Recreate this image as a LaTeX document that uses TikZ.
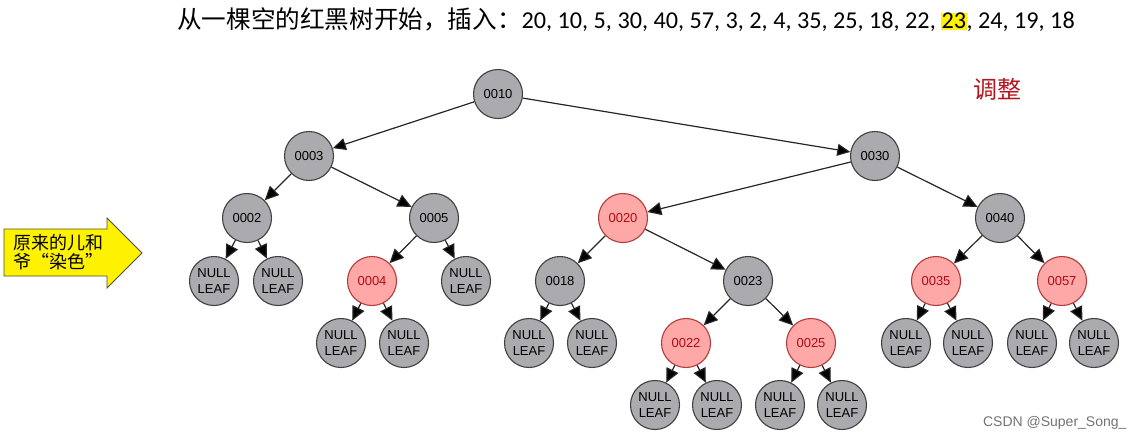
\documentclass[tikz,border=0pt]{standalone}
\usepackage{fontspec}
\setmainfont{Liberation Sans}
\newfontfamily\cjk{Noto Sans CJK SC}
\newfontfamily\numf{Carlito}
\usetikzlibrary{arrows.meta}
\definecolor{nodegrey}{RGB}{171,170,175}
\definecolor{nodered}{RGB}{255,168,168}
\definecolor{redline}{RGB}{178,60,60}
\definecolor{redtext}{RGB}{175,10,20}
\definecolor{tiaozheng}{RGB}{180,20,30}
\tikzset{
  blk/.style={circle,draw=black!75,line width=1.1pt,fill=nodegrey,minimum size=49pt,inner sep=0pt,
    font=\fontsize{13}{15.5}\selectfont,align=center},
  rd/.style={blk,draw=redline,fill=nodered,text=redtext},
  edge/.style={draw=black!85,line width=1.2pt,-{Triangle[length=14pt,width=13pt,fill=black]}},
  topedge/.style={draw=black!85,line width=1.2pt,-{Triangle[length=13pt,width=12pt,fill=black]}}
}
\begin{document}
\begin{tikzpicture}[x=1pt,y=-1pt]
\useasboundingbox (0,0) rectangle (1142,445);
% title
\node[anchor=west,inner sep=0pt] (title) at (177,20)
  {{\cjk\fontsize{24.6}{27}\selectfont 从一棵空的红黑树开始，插入：}{\numf\fontsize{24.2}{27}\selectfont 20, 10, 5, 30, 40, 57, 3, 2, 4, 35, 25, 18, 22, \setlength{\fboxsep}{0.5pt}\colorbox{yellow}{23}, 24, 19, 18}};
\node[text=tiaozheng,font=\cjk\fontsize{24}{26}\selectfont] (adj) at (997,89) {调整};
% yellow arrow
\draw[draw=black!55!olive,fill=yellow,line width=0.8pt] (4,229) -- (107,229) -- (107,218) -- (142,253) -- (107,288) -- (107,276) -- (4,276) -- cycle;
\node[anchor=west,align=left,inner sep=0pt,font=\cjk\fontsize{18}{19}\selectfont] (arrowtext) at (13,252) {原来的儿和\\爷“染色”};
% nodes
\node[blk] (n10) at (498,94) {0010};
\node[blk] (n3) at (309,156) {0003};
\node[blk] (n30) at (875,156) {0030};
\node[blk] (n2) at (247,218) {0002};
\node[blk] (n5) at (434,218) {0005};
\node[rd] (n20) at (623,218) {0020};
\node[blk] (n40) at (1000,218) {0040};
\node[blk] (l1) at (214,281) {NULL\\LEAF};
\node[blk] (l2) at (278,281) {NULL\\LEAF};
\node[rd] (n4) at (372,281) {0004};
\node[blk] (l3) at (466,281) {NULL\\LEAF};
\node[blk] (n18) at (560,281) {0018};
\node[blk] (n23) at (748,281) {0023};
\node[rd] (n35) at (936,281) {0035};
\node[rd] (n57) at (1062,281) {0057};
\node[blk] (l4) at (341,343) {NULL\\LEAF};
\node[blk] (l5) at (404,343) {NULL\\LEAF};
\node[blk] (l6) at (529,343) {NULL\\LEAF};
\node[blk] (l7) at (592,343) {NULL\\LEAF};
\node[rd] (n22) at (686,343) {0022};
\node[rd] (n25) at (811,343) {0025};
\node[blk] (l8) at (906,343) {NULL\\LEAF};
\node[blk] (l9) at (968,343) {NULL\\LEAF};
\node[blk] (l10) at (1032,343) {NULL\\LEAF};
\node[blk] (l11) at (1094,343) {NULL\\LEAF};
\node[blk] (l12) at (655,405) {NULL\\LEAF};
\node[blk] (l13) at (717,405) {NULL\\LEAF};
\node[blk] (l14) at (780,405) {NULL\\LEAF};
\node[blk] (l15) at (842,405) {NULL\\LEAF};
% edges
\draw[topedge] (n10) -- (n3);
\draw[topedge] (n10) -- (n30);
\draw[edge] (n3) -- (n2);
\draw[edge] (n3) -- (n5);
\draw[edge] (n30) -- (n20);
\draw[edge] (n30) -- (n40);
\draw[edge] (n2) -- (l1);
\draw[edge] (n2) -- (l2);
\draw[edge] (n5) -- (n4);
\draw[edge] (n5) -- (l3);
\draw[edge] (n20) -- (n18);
\draw[edge] (n20) -- (n23);
\draw[edge] (n40) -- (n35);
\draw[edge] (n40) -- (n57);
\draw[edge] (n4) -- (l4);
\draw[edge] (n4) -- (l5);
\draw[edge] (n18) -- (l6);
\draw[edge] (n18) -- (l7);
\draw[edge] (n23) -- (n22);
\draw[edge] (n23) -- (n25);
\draw[edge] (n35) -- (l8);
\draw[edge] (n35) -- (l9);
\draw[edge] (n57) -- (l10);
\draw[edge] (n57) -- (l11);
\draw[edge] (n22) -- (l12);
\draw[edge] (n22) -- (l13);
\draw[edge] (n25) -- (l14);
\draw[edge] (n25) -- (l15);
% watermark
\node[anchor=east,text=black!55,font=\fontsize{14}{16}\selectfont] (wm) at (1130,423) {CSDN @Super\_Song\_};
\end{tikzpicture}
\end{document}
